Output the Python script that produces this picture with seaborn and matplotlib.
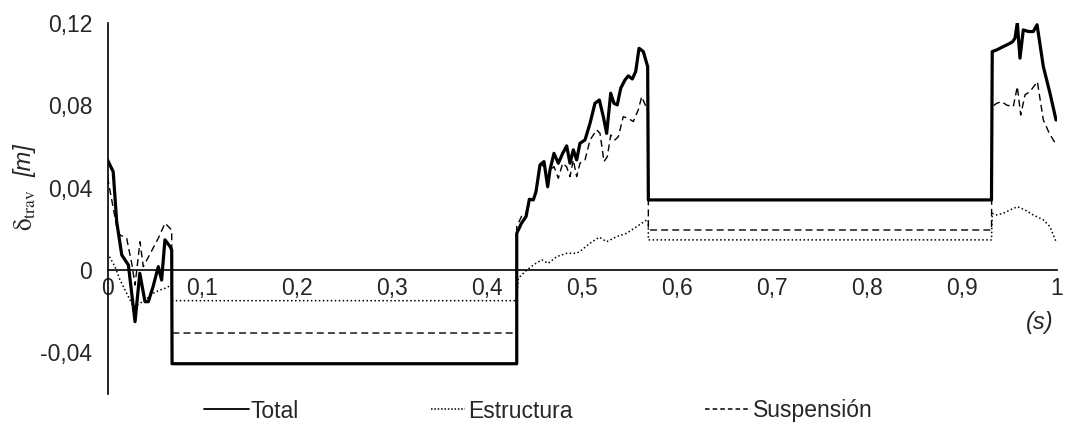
import matplotlib
matplotlib.use("Agg")
import matplotlib.pyplot as plt
import seaborn as sns
import numpy as np
import pandas as pd
from matplotlib.lines import Line2D

# ---------------- data ----------------
t_total = [0.000, 0.006, 0.0097, 0.015, 0.022, 0.029, 0.034, 0.0395, 0.043, 0.048,
           0.0535, 0.057, 0.0605, 0.066, 0.0676, 0.068, 0.431, 0.431, 0.436, 0.4408,
           0.4443, 0.4485, 0.4513, 0.4555, 0.4597, 0.4636, 0.466, 0.4702, 0.4748, 0.4794,
           0.4836, 0.4871, 0.4906, 0.4941, 0.4976, 0.5029, 0.5082, 0.5134, 0.518, 0.5222,
           0.5257, 0.530, 0.5334, 0.5369, 0.5405, 0.545, 0.5485, 0.5527, 0.5563, 0.5598,
           0.5643, 0.5689, 0.5696, 0.931, 0.9318, 0.9365, 0.940, 0.9434, 0.947, 0.9505,
           0.9533, 0.9558, 0.9582, 0.961, 0.9645, 0.970, 0.975, 0.979, 0.9856, 0.9926, 0.999]
v_total = [0.0534, 0.0477, 0.0234, 0.0073, 0.0024, -0.0251, -0.0016, -0.0154, -0.0154, -0.0081,
           0.0016, -0.0049, 0.0146, 0.0113, 0.0097, -0.0455, -0.0455, 0.0178, 0.0227, 0.0259,
           0.0343, 0.034, 0.038, 0.051, 0.0526, 0.0404, 0.0485, 0.0566, 0.0518, 0.0566,
           0.0602, 0.0518, 0.0583, 0.0534, 0.0615, 0.0631, 0.0712, 0.0809, 0.0825, 0.0744,
           0.0663, 0.0858, 0.0809, 0.0801, 0.0882, 0.0922, 0.0942, 0.0927, 0.0963, 0.1076,
           0.106, 0.0987, 0.034, 0.034, 0.106, 0.1068, 0.1076, 0.1084, 0.1092, 0.110,
           0.1108, 0.1125, 0.120, 0.1028, 0.1165, 0.1157, 0.1157, 0.119, 0.0987, 0.0858, 0.0728]

t_estr = [0.000, 0.0079, 0.0132, 0.0202, 0.0272, 0.0342, 0.0413, 0.0483, 0.0553, 0.0606,
          0.064, 0.0676, 0.068, 0.431, 0.4327, 0.4397, 0.4484, 0.4573, 0.4642, 0.4731,
          0.4836, 0.4942, 0.4994, 0.5082, 0.518, 0.5257, 0.5363, 0.5468, 0.5573, 0.5679,
          0.5696, 0.5696, 0.931, 0.9318, 0.9365, 0.9434, 0.9505, 0.9582, 0.9663, 0.975,
          0.9856, 0.9926, 0.999]
v_estr = [0.0081, 0.0016, -0.0049, -0.0113, -0.0178, -0.0162, -0.014, -0.0113, -0.0097, -0.0089,
          -0.0081, -0.0073, -0.0149, -0.0149, -0.004, -0.0008, 0.0024, 0.0049, 0.0032, 0.0065,
          0.0081, 0.0081, 0.0097, 0.013, 0.0159, 0.0137, 0.0162, 0.0178, 0.021, 0.0243,
          0.0243, 0.0146, 0.0146, 0.0275, 0.0267, 0.0275, 0.0291, 0.0307, 0.0291, 0.0267,
          0.0243, 0.021, 0.0137]

t_susp = [0.000, 0.0097, 0.013, 0.0202, 0.0255, 0.029, 0.0342, 0.0377, 0.0535, 0.0606,
          0.0676, 0.068, 0.431, 0.431, 0.436, 0.4408, 0.4443, 0.4485, 0.4513, 0.4555,
          0.4597, 0.4636, 0.466, 0.4702, 0.4748, 0.4794, 0.4836, 0.4871, 0.4906, 0.4941,
          0.4976, 0.5029, 0.5082, 0.5152, 0.5187, 0.5229, 0.5264, 0.530, 0.5345, 0.538,
          0.5432, 0.5485, 0.5538, 0.559, 0.5626, 0.5671, 0.5696, 0.5696, 0.931, 0.9318,
          0.9365, 0.9418, 0.947, 0.954, 0.9582, 0.9618, 0.9663, 0.9716, 0.9793, 0.9856,
          0.9919, 0.9993]
v_susp = [0.045, 0.021, 0.017, 0.0154, 0.0032, -0.0073, 0.0137, 0.0016, 0.0154, 0.0227,
          0.0194, -0.0306, -0.0306, 0.021, 0.026, 0.027, 0.0343, 0.034, 0.038, 0.050,
          0.051, 0.043, 0.048, 0.0502, 0.0445, 0.0518, 0.050, 0.0453, 0.0534, 0.0453,
          0.0518, 0.0534, 0.0631, 0.068, 0.0663, 0.0526, 0.055, 0.0655, 0.0631, 0.0647,
          0.0744, 0.0736, 0.072, 0.0777, 0.0841, 0.0793, 0.076, 0.0194, 0.0194, 0.0793,
          0.0809, 0.0817, 0.080, 0.0793, 0.089, 0.0752, 0.085, 0.0866, 0.0914, 0.0728,
          0.0663, 0.0607]

series_names = ["Total", "Estructura", "Suspensión"]
x_ticks = [0.0, 0.1, 0.2, 0.3, 0.4, 0.5, 0.6, 0.7, 0.8, 0.9, 1.0]
x_tick_labels = ["0", "0,1", "0,2", "0,3", "0,4", "0,5", "0,6", "0,7", "0,8", "0,9", "1"]
y_ticks = [-0.06, -0.04, -0.02, 0.0, 0.02, 0.04, 0.06, 0.08, 0.10, 0.12]
y_tick_labels = ["", "-0,04", "", "0", "", "0,04", "", "0,08", "", "0,12"]

# ---------------- figure ----------------
sns.set_style("white")
plt.rcParams['font.family'] = ['Liberation Sans', 'DejaVu Sans']

W, H = 1075, 433
fig = plt.figure(figsize=(W / 100, H / 100), dpi=100)
ax = fig.add_axes([107.5 / W, 1 - 393.6 / H, (1057 - 107.5) / W, (393.6 - 22.7) / H])

df_t = pd.DataFrame({"t": t_total, "v": v_total})
df_e = pd.DataFrame({"t": t_estr, "v": v_estr})
df_s = pd.DataFrame({"t": t_susp, "v": v_susp})

sns.lineplot(data=df_e, x="t", y="v", ax=ax, color="black", lw=1.1,
             linestyle=(0, (1, 1.6)), estimator=None, sort=False)
sns.lineplot(data=df_s, x="t", y="v", ax=ax, color="black", lw=1.0,
             linestyle=(0, (5, 3)), estimator=None, sort=False)
sns.lineplot(data=df_t, x="t", y="v", ax=ax, color="black", lw=2.3,
             estimator=None, sort=False)

ax.set_xlim(0, 1)
ax.set_ylim(-0.06, 0.12)
ax.spines['top'].set_visible(False)
ax.spines['right'].set_visible(False)
ax.spines['bottom'].set_position(('data', 0))
for sp in ['left', 'bottom']:
    ax.spines[sp].set_color('black')
    ax.spines[sp].set_linewidth(1.2)

ax.set_xticks(x_ticks)
ax.set_xticklabels(x_tick_labels)
ax.set_yticks(y_ticks)
ax.set_yticklabels(y_tick_labels)
ax.tick_params(axis='x', direction='out', length=4, width=1, color='black',
               labelsize=16.5, pad=1)
ax.tick_params(axis='y', direction='out', length=5, width=1, color='black',
               labelsize=16.5, pad=6)
ax.set_xlabel("")
ax.set_ylabel("")
ax.grid(False)

# axis labels
fig.text(25 / W, 1 - 210 / H, r"$\mathrm{δ}_{\mathrm{trav}}$", rotation=90,
         ha='center', va='center', fontsize=18,
         math_fontfamily='stix')
fig.text(25 / W, 1 - 161 / H, "[m]", rotation=90, ha='center', va='center',
         fontsize=17, style='italic')
fig.text(1040 / W, 1 - 322 / H, "(s)", ha='center', va='center',
         fontsize=17, style='italic')

# legend: one entry per box, placed like the reference
handles = [Line2D([0], [0], color='black', lw=1.3),
           Line2D([0], [0], color='black', lw=1.1, linestyle=(0, (1, 1.2))),
           Line2D([0], [0], color='black', lw=1.1, linestyle=(0, (3, 2)))]
leg_x = [204, 431, 705]
leg_len = [1.95, 1.5, 2.0]
for h, name, lx, hl in zip(handles, series_names, leg_x, leg_len):
    lg = fig.legend([h], [name], loc='center left', bbox_to_anchor=(lx / W, 1 - 411 / H),
                    frameon=False, fontsize=16.5, handlelength=hl,
                    handletextpad=0.1, borderpad=0, borderaxespad=0)

fig.savefig("out.png", dpi=100)
